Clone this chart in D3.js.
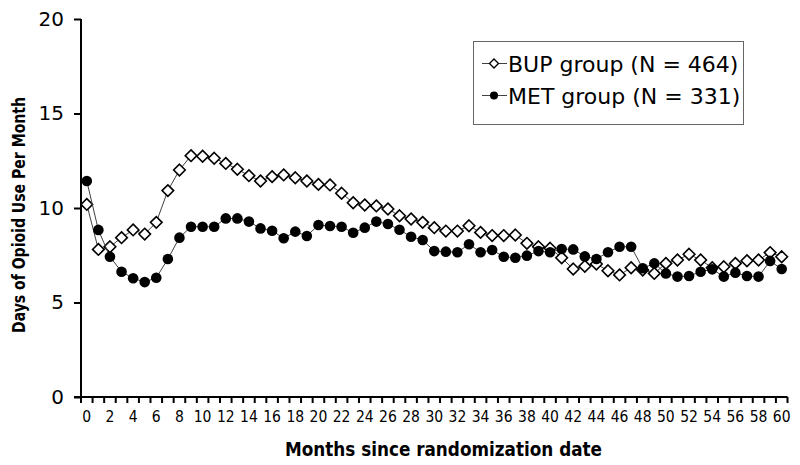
<!DOCTYPE html>
<html>
<head>
<meta charset="utf-8">
<script src="https://cdn.jsdelivr.net/npm/d3@7"></script>
<style>
  html, body { margin: 0; padding: 0; background: #fff; }
  svg { display: block; }
</style>
</head>
<body>
<svg id="chart" width="800" height="465"></svg>
<script>
// ---- Data ----
const months = d3.range(0, 61);
const bupValues = [10.19, 7.81, 7.95, 8.43, 8.84, 8.62, 9.24, 10.92, 12.01, 12.77,
  12.74, 12.63, 12.36, 12.05, 11.71, 11.43, 11.66, 11.75, 11.60, 11.43,
  11.25, 11.22, 10.78, 10.28, 10.16, 10.11, 9.95, 9.59, 9.42, 9.24,
  8.96, 8.78, 8.78, 9.06, 8.71, 8.54, 8.54, 8.57, 8.13, 7.95,
  7.87, 7.37, 6.77, 6.92, 7.04, 6.68, 6.46, 6.84, 6.72, 6.54,
  7.07, 7.25, 7.55, 7.25, 6.84, 6.89, 7.07, 7.21, 7.25, 7.64, 7.42];
const metValues = [11.43, 8.84, 7.42, 6.63, 6.28, 6.08, 6.31, 7.30, 8.43, 9.01,
  9.01, 9.01, 9.45, 9.45, 9.28, 8.92, 8.80, 8.40, 8.75, 8.52,
  9.10, 9.05, 9.01, 8.69, 8.96, 9.28, 9.15, 8.85, 8.48, 8.31,
  7.72, 7.69, 7.66, 8.08, 7.66, 7.78, 7.42, 7.37, 7.48, 7.72,
  7.66, 7.83, 7.81, 7.44, 7.30, 7.66, 7.95, 7.95, 6.81, 7.07,
  6.54, 6.37, 6.40, 6.63, 6.76, 6.37, 6.58, 6.40, 6.37, 7.20, 6.77];
const yTicks = [0, 5, 10, 15, 20];
const xTickLabels = d3.range(0, 61, 2);
const seriesNames = ["BUP group (N = 464)", "MET group (N = 331)"];
const xTitle = "Months since randomization date";
const yTitle = "Days of Opioid Use Per Month";

// ---- Scales ----
const svg = d3.select("#chart");
const x = d3.scaleLinear().domain([-0.5, 60.5]).range([81, 787.5]);
const y = d3.scaleLinear().domain([0, 20]).range([397, 19]);

// ---- Axes ----
const yAxis = d3.axisLeft(y).tickValues(yTicks).tickSize(7).tickPadding(10).tickFormat(d3.format("d"));
const gy = svg.append("g").attr("transform", `translate(${x(-0.5)},0)`).call(yAxis);
gy.select(".domain").attr("stroke", "#000").attr("stroke-width", 2).attr("d", `M0,${y(20)}V${y(0)}`);
gy.selectAll(".tick line").attr("stroke", "#000").attr("stroke-width", 2);
gy.selectAll(".tick text").attr("font-family", "'DejaVu Sans', sans-serif").attr("font-size", 20).attr("fill", "#000");

// x axis: minor ticks at category boundaries
const boundaries = d3.range(-0.5, 61, 1);
const gx = svg.append("g").attr("transform", `translate(0,${y(0)})`);
gx.append("line").attr("x1", x(-0.5) - 7).attr("x2", x(60.5)).attr("y1", 0).attr("y2", 0)
  .attr("stroke", "#000").attr("stroke-width", 2);
gx.selectAll("line.tk").data(boundaries).join("line").attr("class", "tk")
  .attr("x1", d => x(d)).attr("x2", d => x(d)).attr("y1", 0).attr("y2", 6)
  .attr("stroke", "#000").attr("stroke-width", 2);
gx.selectAll("text.tl").data(xTickLabels).join("text").attr("class", "tl")
  .attr("x", d => x(d)).attr("y", 25).attr("text-anchor", "middle")
  .attr("font-family", "'DejaVu Sans Condensed', 'DejaVu Sans', sans-serif").attr("font-size", 15.5)
  .attr("fill", "#000").text(d => d);

// titles
svg.append("text").attr("x", 443.5).attr("y", 456).attr("text-anchor", "middle")
  .attr("font-family", "'DejaVu Sans Condensed', 'DejaVu Sans', sans-serif").attr("font-weight", "bold")
  .attr("font-size", 20).attr("textLength", 317).attr("lengthAdjust", "spacingAndGlyphs").text(xTitle);
svg.append("text").attr("transform", "translate(24.5,215) rotate(-90)").attr("text-anchor", "middle")
  .attr("font-family", "'DejaVu Sans Condensed', 'DejaVu Sans', sans-serif").attr("font-weight", "bold")
  .attr("font-size", 18).attr("textLength", 236).attr("lengthAdjust", "spacingAndGlyphs").text(yTitle);

// ---- Series ----
const line = d3.line().x((d, i) => x(months[i])).y(d => y(d));
const diamond = (cx, cy, r) => `M${cx},${cy - r}L${cx + r},${cy}L${cx},${cy + r}L${cx - r},${cy}Z`;

svg.append("path").datum(bupValues).attr("d", line).attr("fill", "none").attr("stroke", "#404040").attr("stroke-width", 1);
svg.selectAll("path.bup").data(bupValues).join("path").attr("class", "bup")
  .attr("d", (d, i) => diamond(x(months[i]), y(d), 5.8))
  .attr("fill", "#fff").attr("stroke", "#000").attr("stroke-width", 1.6);

svg.append("path").datum(metValues).attr("d", line).attr("fill", "none").attr("stroke", "#404040").attr("stroke-width", 1);
svg.selectAll("circle.met").data(metValues).join("circle").attr("class", "met")
  .attr("cx", (d, i) => x(months[i])).attr("cy", d => y(d)).attr("r", 5.3).attr("fill", "#000");

// ---- Legend ----
const lg = svg.append("g");
lg.append("rect").attr("x", 473.5).attr("y", 41.5).attr("width", 270).attr("height", 83)
  .attr("fill", "#fff").attr("stroke", "#666").attr("stroke-width", 1);
const rows = [63.5, 95.5];
rows.forEach((ry, k) => {
  lg.append("line").attr("x1", 482).attr("x2", 507).attr("y1", ry).attr("y2", ry).attr("stroke", "#404040").attr("stroke-width", 1);
  if (k === 0) {
    lg.append("path").attr("d", diamond(494, ry, 4.5)).attr("fill", "#fff").attr("stroke", "#000").attr("stroke-width", 1.4);
  } else {
    lg.append("circle").attr("cx", 494).attr("cy", ry).attr("r", 4).attr("fill", "#000");
  }
  lg.append("text").attr("x", 508).attr("y", ry + 8).attr("font-family", "'DejaVu Sans', sans-serif")
    .attr("font-size", 22).attr("fill", "#000").text(seriesNames[k]);
});
</script>
</body>
</html>
